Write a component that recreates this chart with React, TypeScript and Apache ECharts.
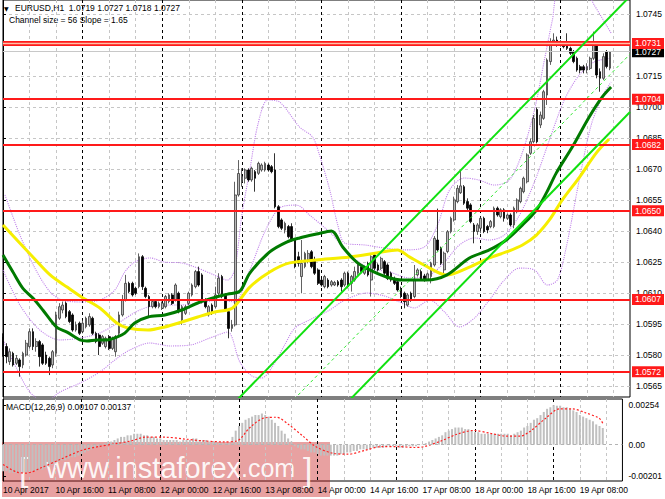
import { useEffect, useRef } from 'react'
import * as echarts from 'echarts'

// EURUSD H1 candles, one array per trading day: [open, close, low, high]
const apr10 = [
  [1.05890, 1.05825, 1.05793, 1.05906], [1.05842, 1.05793, 1.05761, 1.05858], [1.05769, 1.05817, 1.05753, 1.05833],
  [1.05809, 1.05753, 1.05745, 1.05817], [1.05761, 1.05785, 1.05753, 1.05801], [1.05777, 1.05745, 1.05696, 1.05785],
  [1.05753, 1.05809, 1.05737, 1.05817], [1.05801, 1.05858, 1.05793, 1.05874], [1.05842, 1.05914, 1.05833, 1.05930],
  [1.05914, 1.05842, 1.05825, 1.05930], [1.05842, 1.05866, 1.05817, 1.05882], [1.05866, 1.05793, 1.05745, 1.05874],
  [1.05850, 1.05761, 1.05753, 1.05858], [1.05801, 1.05761, 1.05753, 1.05817], [1.05785, 1.05745, 1.05704, 1.05793],
  [1.05753, 1.05817, 1.05737, 1.05825], [1.05809, 1.05995, 1.05793, 1.06011], [1.05979, 1.06035, 1.05971, 1.06052],
  [1.06019, 1.06043, 1.06003, 1.06060], [1.06052, 1.05987, 1.05979, 1.06060], [1.06011, 1.05963, 1.05955, 1.06019],
  [1.05995, 1.05922, 1.05914, 1.06003], [1.05922, 1.05947, 1.05914, 1.05963], [1.05955, 1.05906, 1.05898, 1.05963],
]
const apr11 = [
  [1.05914, 1.05955, 1.05906, 1.05971], [1.05938, 1.05979, 1.05930, 1.05987], [1.05947, 1.05987, 1.05938, 1.06003],
  [1.05979, 1.05906, 1.05898, 1.05987], [1.05906, 1.05866, 1.05858, 1.05914], [1.05898, 1.05842, 1.05801, 1.05906],
  [1.05858, 1.05890, 1.05850, 1.05898], [1.05842, 1.05882, 1.05833, 1.05890], [1.05890, 1.05833, 1.05825, 1.05898],
  [1.05833, 1.05882, 1.05825, 1.05890], [1.05817, 1.05890, 1.05793, 1.05898], [1.05906, 1.05995, 1.05898, 1.06011],
  [1.05995, 1.06068, 1.05987, 1.06092], [1.06068, 1.06148, 1.06060, 1.06189], [1.06148, 1.06108, 1.06100, 1.06156],
  [1.06148, 1.06092, 1.06084, 1.06156], [1.06124, 1.06100, 1.06092, 1.06132], [1.06132, 1.06277, 1.06124, 1.06293],
  [1.06277, 1.06132, 1.06116, 1.06285], [1.06124, 1.06084, 1.06076, 1.06132], [1.06084, 1.06035, 1.05987, 1.06092],
  [1.06035, 1.06060, 1.06027, 1.06068], [1.06060, 1.06035, 1.06027, 1.06068], [1.06035, 1.06051, 1.06027, 1.06060],
]
const apr12 = [
  [1.06027, 1.06051, 1.06019, 1.06060], [1.06035, 1.06084, 1.06027, 1.06092], [1.06060, 1.06092, 1.06051, 1.06100],
  [1.06092, 1.06051, 1.06043, 1.06100], [1.06068, 1.06140, 1.06060, 1.06148], [1.06100, 1.06011, 1.06003, 1.06108],
  [1.05971, 1.06035, 1.05947, 1.06043], [1.06003, 1.06035, 1.05995, 1.06043], [1.06051, 1.06100, 1.06043, 1.06108],
  [1.06092, 1.06140, 1.06084, 1.06148], [1.06132, 1.06205, 1.06124, 1.06213], [1.06205, 1.06140, 1.06132, 1.06229],
  [1.06189, 1.06060, 1.06051, 1.06197], [1.06068, 1.06035, 1.06027, 1.06076], [1.05995, 1.06035, 1.05987, 1.06043],
  [1.06043, 1.06003, 1.05995, 1.06051], [1.06035, 1.06092, 1.06027, 1.06132], [1.06100, 1.06173, 1.06092, 1.06197],
  [1.06181, 1.06084, 1.06076, 1.06189], [1.06092, 1.06019, 1.06011, 1.06100], [1.06011, 1.05930, 1.05882, 1.06019],
  [1.05930, 1.05947, 1.05914, 1.05971], [1.05947, 1.06576, 1.05939, 1.06640], [1.06576, 1.06680, 1.06568, 1.06745],
]
const apr13 = [
  [1.06640, 1.06665, 1.06616, 1.06705], [1.06657, 1.06697, 1.06632, 1.06705], [1.06697, 1.06649, 1.06640, 1.06705],
  [1.06649, 1.06705, 1.06640, 1.06713], [1.06689, 1.06657, 1.06592, 1.06697], [1.06681, 1.06729, 1.06673, 1.06737],
  [1.06697, 1.06721, 1.06689, 1.06729], [1.06697, 1.06729, 1.06689, 1.06737], [1.06721, 1.06697, 1.06689, 1.06729],
  [1.06713, 1.06689, 1.06681, 1.06721], [1.06697, 1.06519, 1.06511, 1.06778], [1.06519, 1.06423, 1.06415, 1.06527],
  [1.06455, 1.06415, 1.06406, 1.06463], [1.06406, 1.06439, 1.06390, 1.06447], [1.06423, 1.06374, 1.06366, 1.06431],
  [1.06423, 1.06358, 1.06350, 1.06439], [1.06358, 1.06229, 1.06221, 1.06366], [1.06277, 1.06245, 1.06229, 1.06301],
  [1.06181, 1.06245, 1.06100, 1.06358], [1.06229, 1.06293, 1.06221, 1.06301], [1.06261, 1.06293, 1.06245, 1.06309],
  [1.06301, 1.06229, 1.06221, 1.06309], [1.06261, 1.06197, 1.06189, 1.06277], [1.06213, 1.06148, 1.06140, 1.06221],
]
const apr14 = [
  [1.06164, 1.06140, 1.06132, 1.06173], [1.06132, 1.06181, 1.06124, 1.06189], [1.06164, 1.06132, 1.06124, 1.06173],
  [1.06140, 1.06156, 1.06132, 1.06164], [1.06140, 1.06152, 1.06135, 1.06160], [1.06156, 1.06140, 1.06132, 1.06164],
  [1.06164, 1.06132, 1.06108, 1.06173], [1.06140, 1.06197, 1.06132, 1.06205], [1.06197, 1.06132, 1.06124, 1.06205],
  [1.06148, 1.06181, 1.06108, 1.06189], [1.06164, 1.06205, 1.06156, 1.06229], [1.06197, 1.06237, 1.06189, 1.06245],
  [1.06229, 1.06205, 1.06197, 1.06237], [1.06197, 1.06221, 1.06189, 1.06229], [1.06245, 1.06189, 1.06181, 1.06253],
  [1.06164, 1.06277, 1.06084, 1.06285], [1.06285, 1.06221, 1.06213, 1.06293], [1.06237, 1.06213, 1.06205, 1.06245],
  [1.06221, 1.06269, 1.06213, 1.06277], [1.06253, 1.06197, 1.06189, 1.06261], [1.06237, 1.06172, 1.06164, 1.06245],
  [1.06197, 1.06164, 1.06156, 1.06205], [1.06172, 1.06148, 1.06140, 1.06181], [1.06156, 1.06116, 1.06108, 1.06164],
]
const apr17 = [
  [1.06119, 1.06092, 1.06076, 1.06132], [1.06100, 1.06059, 1.06027, 1.06108], [1.06043, 1.06092, 1.06035, 1.06100],
  [1.06100, 1.06068, 1.06059, 1.06108], [1.06084, 1.06164, 1.06076, 1.06237], [1.06189, 1.06213, 1.06181, 1.06221],
  [1.06205, 1.06168, 1.06161, 1.06213], [1.06184, 1.06164, 1.06156, 1.06194], [1.06168, 1.06194, 1.06161, 1.06200],
  [1.06181, 1.06245, 1.06148, 1.06253], [1.06237, 1.06366, 1.06229, 1.06377], [1.06358, 1.06310, 1.06302, 1.06510],
  [1.06318, 1.06245, 1.06237, 1.06326], [1.06213, 1.06294, 1.06197, 1.06302], [1.06302, 1.06398, 1.06294, 1.06406],
  [1.06398, 1.06463, 1.06390, 1.06471], [1.06455, 1.06552, 1.06447, 1.06568], [1.06544, 1.06608, 1.06536, 1.06624],
  [1.06587, 1.06620, 1.06581, 1.06697], [1.06616, 1.06536, 1.06528, 1.06624], [1.06544, 1.06512, 1.06495, 1.06560],
  [1.06528, 1.06447, 1.06439, 1.06536], [1.06431, 1.06399, 1.06342, 1.06440], [1.06399, 1.06431, 1.06383, 1.06440],
]
const apr18 = [
  [1.06415, 1.06463, 1.06391, 1.06471], [1.06463, 1.06399, 1.06391, 1.06471], [1.06423, 1.06407, 1.06391, 1.06431],
  [1.06423, 1.06447, 1.06415, 1.06455], [1.06423, 1.06512, 1.06415, 1.06520], [1.06512, 1.06479, 1.06471, 1.06520],
  [1.06471, 1.06504, 1.06463, 1.06512], [1.06504, 1.06463, 1.06447, 1.06512], [1.06463, 1.06479, 1.06455, 1.06487],
  [1.06479, 1.06431, 1.06423, 1.06487], [1.06431, 1.06512, 1.06415, 1.06520], [1.06495, 1.06552, 1.06487, 1.06560],
  [1.06544, 1.06608, 1.06536, 1.06616], [1.06592, 1.06657, 1.06584, 1.06665], [1.06640, 1.06770, 1.06632, 1.06778],
  [1.06778, 1.06834, 1.06770, 1.06850], [1.06834, 1.06947, 1.06826, 1.06963], [1.06990, 1.06834, 1.06826, 1.07000],
  [1.06915, 1.06963, 1.06900, 1.06980], [1.06947, 1.07076, 1.06940, 1.07085], [1.07060, 1.07230, 1.07012, 1.07238],
  [1.07222, 1.07310, 1.07206, 1.07335], [1.07310, 1.07326, 1.07302, 1.07359], [1.07326, 1.07302, 1.07294, 1.07343],
]
const apr19 = [
  [1.07302, 1.07310, 1.07294, 1.07326], [1.07310, 1.07294, 1.07286, 1.07318], [1.07302, 1.07286, 1.07278, 1.07359],
  [1.07286, 1.07262, 1.07254, 1.07294], [1.07270, 1.07222, 1.07214, 1.07278], [1.07238, 1.07181, 1.07173, 1.07246],
  [1.07197, 1.07181, 1.07165, 1.07206], [1.07197, 1.07181, 1.07165, 1.07206], [1.07181, 1.07197, 1.07165, 1.07214],
  [1.07189, 1.07238, 1.07181, 1.07246], [1.07238, 1.07318, 1.07230, 1.07367], [1.07302, 1.07157, 1.07141, 1.07318],
  [1.07173, 1.07141, 1.07076, 1.07189], [1.07141, 1.07246, 1.07133, 1.07262], [1.07270, 1.07198, 1.07189, 1.07278],
  [1.0719, 1.0727, 1.0718, 1.0727],
]

const xTickLabels = [
  '10 Apr 2017', '10 Apr 16:00', '11 Apr 08:00', '12 Apr 00:00', '12 Apr 16:00', '13 Apr 08:00',
  '14 Apr 00:00', '14 Apr 16:00', '17 Apr 08:00', '18 Apr 00:00', '18 Apr 16:00', '19 Apr 08:00',
]
const priceTicks = [1.0565, 1.058, 1.0595, 1.061, 1.0625, 1.064, 1.0655, 1.067, 1.0685, 1.07, 1.0715, 1.073, 1.0745]
// 1.0730 sits fully under the 1.0731 and 1.0727 boxes, so it gets no label
const priceLabels = [1.0565, 1.058, 1.0595, 1.061, 1.0625, 1.064, 1.0655, 1.067, 1.0685, 1.07, 1.0715, 1.0745]
const levels = [1.0731, 1.0704, 1.0682, 1.065, 1.0607, 1.0572]
const bidPrice = 1.0727

// moving averages, [bar, price]
const maGreen = [
  [0, 1.06285], [3, 1.06203], [6, 1.06124], [9, 1.06077], [12, 1.06019], [15, 1.05956], [16.5, 1.05932],
  [19.3, 1.05912], [23.2, 1.05874], [25.3, 1.05869], [28.3, 1.05874], [31.3, 1.05874], [34.3, 1.05888],
  [36.7, 1.05907], [39.7, 1.05956], [43.7, 1.05985], [48.8, 1.05995], [53.9, 1.06019], [58.7, 1.06053],
  [63.8, 1.0608], [67.7, 1.06096], [71.4, 1.0611], [74.4, 1.06198], [80.4, 1.063], [85.5, 1.06348],
  [89.4, 1.06368], [94.5, 1.06387], [99, 1.06402], [102.4, 1.06324], [106.6, 1.06251], [110.5, 1.06213],
  [115.6, 1.06179], [120.4, 1.06164], [127.7, 1.06164], [133.7, 1.06188], [140.6, 1.06271], [146.6, 1.0631],
  [151.7, 1.06358], [156.6, 1.06431], [160.8, 1.06503], [163.8, 1.06586], [166.8, 1.06683], [171.6, 1.06808],
  [176.7, 1.06954], [180.6, 1.0705], [183.3, 1.07099],
]
const maYellow = [
  [0, 1.06431], [4.2, 1.06358], [9, 1.06276], [14.2, 1.06189], [19.3, 1.0613], [24.1, 1.06077], [29.2, 1.06029],
  [34.3, 1.05956], [37.6, 1.05932], [43.7, 1.05922], [48.8, 1.05937], [53.9, 1.05961], [58.7, 1.05985],
  [63.8, 1.06009], [69.2, 1.06029], [74.4, 1.0613], [80.4, 1.06203], [86.4, 1.06247], [94.5, 1.06261],
  [104.5, 1.06276], [112.6, 1.06295], [118.9, 1.0631], [122.5, 1.06276], [128.6, 1.06222], [133.7, 1.06188],
  [140.6, 1.06227], [146.6, 1.06271], [151.7, 1.063], [156.6, 1.06334], [160.8, 1.06382], [164.7, 1.06455],
  [168.6, 1.06552], [173.8, 1.06663], [178.8, 1.06779], [182.7, 1.06847],
]

// bollinger bands, [bar, price]
const bbUpper = [
  [0.6, 1.06576], [5.1, 1.06382], [9.6, 1.06222], [14.2, 1.06106], [17.8, 1.06067], [23.2, 1.06058], [29.2, 1.06067],
  [33.7, 1.06116], [36.7, 1.06203], [39.7, 1.06251], [44.3, 1.06271], [48.8, 1.06251], [53.9, 1.06247],
  [58.7, 1.06222], [63.8, 1.06188], [67.7, 1.06164], [69.8, 1.06213], [72, 1.06479], [74.4, 1.06697],
  [76.8, 1.06915], [79.8, 1.07036], [83.4, 1.07026], [89.4, 1.06905], [93.3, 1.06857], [95.4, 1.0677],
  [98.5, 1.066], [100.9, 1.06431], [103, 1.06343], [109, 1.06334], [115, 1.06319], [121, 1.0631], [127, 1.06324],
  [131, 1.06431], [134.6, 1.066], [139.1, 1.06658], [143.6, 1.06648], [148.1, 1.06624], [152.6, 1.06648],
  [156.3, 1.0677], [160.2, 1.06988], [163.2, 1.0723], [165.6, 1.07423], [167.7, 1.07568], [175.2, 1.07568],
  [178.2, 1.07496], [183.3, 1.0736],
]
const bbMiddle = [
  [0, 1.06213], [5.1, 1.06043], [11.1, 1.05922], [17.2, 1.05874], [23.2, 1.05883], [29.2, 1.05908], [35.2, 1.05961],
  [41.2, 1.06019], [47.3, 1.06043], [53.3, 1.06043], [59.3, 1.06053], [65.3, 1.06067], [69.8, 1.06058],
  [74.4, 1.06213], [78.9, 1.06397], [83.4, 1.06513], [88.5, 1.06527], [92.4, 1.06479], [99.4, 1.06382],
  [104.5, 1.06285], [110.5, 1.06222], [116.5, 1.06203], [122.5, 1.06174], [128.6, 1.06188], [133.1, 1.06251],
  [137.6, 1.06334], [142.1, 1.06368], [146.6, 1.06358], [151.1, 1.06382], [155.7, 1.06479], [160.2, 1.06639],
  [164.7, 1.06842], [169.2, 1.07036], [173.7, 1.07157], [178.2, 1.0722], [183.3, 1.07239],
]
const bbLower = [
  [0, 1.05874], [3.6, 1.05752], [8.1, 1.05622], [12.6, 1.05573], [17.2, 1.05622], [23.2, 1.05665], [29.2, 1.05719],
  [33.7, 1.05777], [38.2, 1.05825], [44.3, 1.05859], [50.3, 1.05845], [56.3, 1.05849], [62.3, 1.05883],
  [67.7, 1.05912], [71.4, 1.05767], [75, 1.057], [78, 1.0569], [81, 1.0574], [84.9, 1.0585], [87.9, 1.0593],
  [92.4, 1.05971], [98.5, 1.06019], [103, 1.06067], [109.6, 1.06101], [115, 1.06087], [119.5, 1.06058],
  [124, 1.06029], [128.6, 1.06067], [133.1, 1.06009], [137.6, 1.05937], [142.1, 1.0598], [146.6, 1.06067],
  [151.1, 1.06164], [155.7, 1.06222], [160.2, 1.06213], [164.1, 1.0614], [167.1, 1.06164], [169.8, 1.06324],
  [173.7, 1.06648], [177.3, 1.06915], [180.9, 1.0706], [183.3, 1.07123],
]

// regression channel, [bar, price]
const channelSize = 56
const channelSlope = 1.65
const channelUpper = [[60, 1.05409], [189, 1.07538]]
const channelMiddle = [[60, 1.05129], [189, 1.07258]]
const channelLower = [[60, 1.04849], [189, 1.06978]]

// MACD(12,26,9) histogram, one value per bar
const macdHist = [
  -0.0017, -0.0017, -0.0018, -0.0018, -0.0018, -0.0018, -0.0018, -0.0018, -0.0017, -0.0017,
  -0.0017, -0.0016, -0.0016, -0.0015, -0.0014, -0.0013, -0.0012, -0.0011, -0.001, -0.001,
  -0.0009, -0.0008, -0.0008, -0.0007, -0.0006, -0.0005, -0.0004, -0.0003, -0.0002, -0.0001,
  0.00002, 0.0001, 0.0002, 0.0002, 0.0003, 0.0004, 0.0005, 0.0005, 0.0006, 0.0006,
  0.0007, 0.0007, 0.0007, 0.0006, 0.0006, 0.0005, 0.0005, 0.0004, 0.0004, 0.0003,
  0.0003, 0.0003, 0.0003, 0.0003, 0.0002, 0.0003, 0.0003, 0.0003, 0.0004, 0.0004,
  0.0003, 0.0003, 0.0003, 0.0002, 0.0002, 0.0002, 0.0001, 0.0001, 0.0001, 0.0001,
  0.0005, 0.0009, 0.0012, 0.0014, 0.0016, 0.0017, 0.0018, 0.0019, 0.0019, 0.002,
  0.0019, 0.0018, 0.0016, 0.0014, 0.0012, 0.0009, 0.0007, 0.0004, 0.0002, -0.0001,
  -0.0002, -0.0003, -0.0003, -0.0004, -0.0005, -0.0005, -0.0006, -0.0007, -0.0007, -0.0007,
  -0.0007, -0.0007, -0.0007, -0.0006, -0.0006, -0.0005, -0.0005, -0.0004, -0.0004, -0.0003,
  -0.0003, -0.0003, -0.0003, -0.0002, -0.0002, -0.0002, -0.0002, -0.0001, -0.0001, -0.0001,
  -0.0001, -0.0002, -0.0002, -0.0001, -0.0001, -0.0001, -0.0001, -0.00003, 0.00003, 0.0001,
  0.0002, 0.0003, 0.0004, 0.0005, 0.0006, 0.0008, 0.0009, 0.001, 0.0011, 0.0011,
  0.0011, 0.001, 0.001, 0.0009, 0.0008, 0.0008, 0.0007, 0.0007, 0.0007, 0.0007,
  0.0007, 0.0007, 0.0007, 0.0007, 0.0007, 0.0006, 0.0007, 0.0008, 0.0009, 0.0011,
  0.0012, 0.0014, 0.0016, 0.0017, 0.0019, 0.0021, 0.0023, 0.0024, 0.00254, 0.0025,
  0.0025, 0.0024, 0.0024, 0.0023, 0.0022, 0.0021, 0.0019, 0.0018, 0.0017, 0.0016,
  0.0015, 0.0013, 0.0012, 0.00107,
]
const macdSignal = [
  [0, -0.00127], [4.2, -0.00176], [7.2, -0.00182], [12, -0.00145], [17.2, -0.00097], [24.1, -0.00036],
  [29.2, -0.00012], [34.3, 0.00006], [39.1, 0.00024], [43.4, 0.00048], [49.4, 0.00048], [55.4, 0.00036],
  [61.4, 0.00024], [67.4, 0.00018], [71.4, 0.00024], [75.3, 0.00109], [79.5, 0.0017], [83.4, 0.00176],
  [87.3, 0.00127], [91.5, 0.00055], [95.4, -0.00012], [100.6, -0.00055], [105.4, -0.00061], [110.5, -0.00036],
  [115.6, -0.00012], [120.4, -0.00012], [125.5, -0.00018], [128.6, -0.00012], [133.7, 0.00024], [138.5, 0.00067],
  [143.6, 0.00091], [148.7, 0.00073], [153.5, 0.00055], [157.8, 0.00055], [160.8, 0.00085], [165.6, 0.0017],
  [169.8, 0.0023], [173.7, 0.0023], [177.6, 0.00206], [181.9, 0.0017], [183, 0.00137],
]
const macdTicks = [-0.00201, 0, 0.00254]

const SLOTS = 190
const PMIN = 1.055977
const PMAX = 1.075202
const MMIN = -0.00233
const MMAX = 0.00293
const FONT = "'Liberation Sans', Arial, sans-serif"

export default function App() {
  const ref = useRef<HTMLDivElement>(null)

  useEffect(() => {
    if (!ref.current) return
    const chart = echarts.init(ref.current, undefined, { renderer: 'svg' })

    const candles = [...apr10, ...apr11, ...apr12, ...apr13, ...apr14, ...apr17, ...apr18, ...apr19]
    const last = candles[candles.length - 1]
    const cats = Array.from({ length: SLOTS }, (_, i) => String(i))
    const header = `EURUSD,H1  ${last[0].toFixed(4)} ${last[3].toFixed(4)} ${last[2].toFixed(4)} ${last[1].toFixed(4)}`
    const macdHeader = `MACD(12,26,9) ${macdHist[macdHist.length - 1].toFixed(5)} ${macdSignal[macdSignal.length - 1][1].toFixed(5)}`

    const vSplit = {
      show: true, interval: 7,
      lineStyle: { color: ['#000000', '#c6c6c6', '#c6c6c6'], type: [3, 3], width: 1 },
    }
    const txt = { fontFamily: FONT, fontSize: 8.5, color: '#000' }

    const overlay = (data: number[][], color: string, width: number, type: any = 'solid', z = 4) => ({
      type: 'line', xAxisIndex: 1, yAxisIndex: 0, data, smooth: 0.3, showSymbol: false, symbol: 'none',
      silent: true, z, lineStyle: { color, width, type },
    })
    const boxLabel = (v: number, bg: string) => ({
      show: true, position: 'end', distance: 2, formatter: v.toFixed(4),
      backgroundColor: bg, color: '#fff', padding: [1, 3, 1, 3], lineHeight: 9,
      fontFamily: FONT, fontSize: 8.5,
    })

    const levelLines: any[] = []
    levels.forEach((v, k) => {
      if (k === 0) {
        levelLines.push({ yAxis: v, lineStyle: { color: '#ff1a1a', width: 5, type: 'solid' }, label: boxLabel(v, '#ff1a1a') })
        levelLines.push({ yAxis: v, lineStyle: { color: '#ffc0a8', width: 1.4, type: 'solid' }, label: { show: false } })
      } else {
        levelLines.push({ yAxis: v, lineStyle: { color: '#ff1a1a', width: 2, type: 'solid' }, label: boxLabel(v, '#ff1a1a') })
      }
    })

    chart.setOption({
      animation: false,
      backgroundColor: '#fff',
      grid: [
        { left: 3, top: 0, width: 627.8, height: 397, show: true, borderColor: '#000', borderWidth: 1 },
        { left: 3, top: 399, width: 627.8, height: 82, show: true, borderColor: '#000', borderWidth: 1 },
      ],
      xAxis: [
        {
          type: 'category', gridIndex: 0, data: cats, boundaryGap: false,
          axisLine: { show: false }, axisTick: { show: false }, axisLabel: { show: false }, splitLine: vSplit,
        },
        { type: 'value', gridIndex: 0, min: 0, max: SLOTS - 1, show: false },
        {
          type: 'category', gridIndex: 1, data: cats, boundaryGap: false,
          axisLine: { show: false }, axisTick: { show: false },
          axisLabel: {
            ...txt, show: true, interval: 15, align: 'left', margin: 4,
            formatter: (_: string, i: number) => xTickLabels[i / 16] ?? '',
          },
          splitLine: vSplit,
        },
        { type: 'value', gridIndex: 1, min: 0, max: SLOTS - 1, show: false },
      ],
      yAxis: [
        {
          type: 'value', gridIndex: 0, position: 'right', min: PMIN, max: PMAX,
          axisLine: { show: true, lineStyle: { color: '#000' } },
          axisTick: { show: true, length: 3, customValues: priceTicks, lineStyle: { color: '#000' } },
          axisLabel: { ...txt, customValues: priceLabels, margin: 6, formatter: (v: number) => v.toFixed(4) },
          splitLine: { show: true, lineStyle: { color: '#c6c6c6', type: [3, 3], width: 1 } },
        },
        {
          type: 'value', gridIndex: 1, position: 'right', min: MMIN, max: MMAX,
          axisLine: { show: true, lineStyle: { color: '#000' } },
          axisTick: { show: true, length: 3, customValues: macdTicks, lineStyle: { color: '#000' } },
          axisLabel: {
            ...txt, customValues: macdTicks, margin: 6,
            formatter: (v: number) => (Math.abs(v) < 1e-9 ? '0.00' : v.toFixed(5)),
          },
          splitLine: { show: false },
        },
      ],
      series: [
        overlay(bbUpper, '#c184ea', 1.1, 'dotted', 2),
        overlay(bbMiddle, '#c184ea', 1.1, 'dotted', 2),
        overlay(bbLower, '#c184ea', 1.1, 'dotted', 2),
        {
          type: 'candlestick', xAxisIndex: 0, yAxisIndex: 0, data: candles, barWidth: 2.2, z: 3, silent: true,
          itemStyle: { color: '#b8b8b8', color0: '#000', borderColor: '#3a3a3a', borderColor0: '#000', borderWidth: 0.8 },
        },
        overlay(maYellow, '#f6ee00', 3),
        overlay(maGreen, '#007a00', 3),
        overlay(channelMiddle, '#33e633', 1, [3, 3], 5),
        overlay(channelUpper, '#10e010', 2, 'solid', 5),
        overlay(channelLower, '#10e010', 2, 'solid', 5),
        {
          type: 'line', xAxisIndex: 0, yAxisIndex: 0, data: [], z: 6, silent: true,
          markLine: {
            silent: true, symbol: ['none', 'none'], animation: false, precision: 5,
            data: [
              { yAxis: bidPrice, lineStyle: { color: '#c8c8c8', width: 1, type: 'solid' }, label: boxLabel(bidPrice, '#000') },
              ...levelLines,
            ],
          },
        },
        {
          type: 'bar', xAxisIndex: 2, yAxisIndex: 1, data: macdHist, barWidth: 2, silent: true,
          itemStyle: { color: '#c0c0c0' },
          markLine: {
            silent: true, symbol: ['none', 'none'], animation: false, precision: 6,
            data: [{ yAxis: 0, lineStyle: { color: '#b4b4b4', width: 1, type: [3, 3] }, label: { show: false } }],
          },
        },
        {
          type: 'line', xAxisIndex: 3, yAxisIndex: 1, data: macdSignal, smooth: 0.3, showSymbol: false,
          symbol: 'none', silent: true, z: 4, lineStyle: { color: '#ff2020', width: 1.2, type: [2, 2] },
        },
      ],
      graphic: [
        { type: 'text', x: 4, y: 8, style: { text: '▼', font: "6px 'DejaVu Sans'", fill: '#000', verticalAlign: 'middle' } },
        { type: 'text', x: 15, y: 8, style: { text: header, font: `8.5px ${FONT}`, fill: '#000', verticalAlign: 'middle' } },
        {
          type: 'text', x: 9, y: 20,
          style: { text: `Channel size = ${channelSize} Slope = ${channelSlope.toFixed(2)}`, font: `8.5px ${FONT}`, fill: '#000', verticalAlign: 'middle' },
        },
        { type: 'text', x: 6, y: 407, style: { text: macdHeader, font: `8.5px ${FONT}`, fill: '#000', verticalAlign: 'middle' } },
        {
          type: 'group', z: 100, silent: true,
          children: [
            { type: 'rect', shape: { x: 2, y: 442, width: 328, height: 55 }, style: { fill: 'rgba(200,30,30,0.42)' } },
            { type: 'text', x: 19, y: 469, style: { text: '[', font: `300 34px ${FONT}`, fill: 'rgba(255,255,255,0.9)', verticalAlign: 'middle' } },
            {
              type: 'text', x: 46, y: 468,
              style: {
                text: '{a|www.instaforex}{b|.com}', verticalAlign: 'middle',
                rich: {
                  a: { fontFamily: FONT, fontSize: 29, fill: 'rgba(255,255,255,0.92)', color: 'rgba(255,255,255,0.92)' },
                  b: { fontFamily: FONT, fontSize: 25, fill: 'rgba(255,255,255,0.92)', color: 'rgba(255,255,255,0.92)' },
                },
              },
            },
            { type: 'text', x: 303, y: 469, style: { text: ']', font: `300 34px ${FONT}`, fill: 'rgba(255,255,255,0.9)', verticalAlign: 'middle' } },
          ],
        },
      ],
    })

    return () => chart.dispose()
  }, [])

  return (
    <div
      ref={ref}
      style={{ position: 'fixed', left: 0, top: 0, width: 665, height: 499, background: '#fff' }}
    />
  )
}
